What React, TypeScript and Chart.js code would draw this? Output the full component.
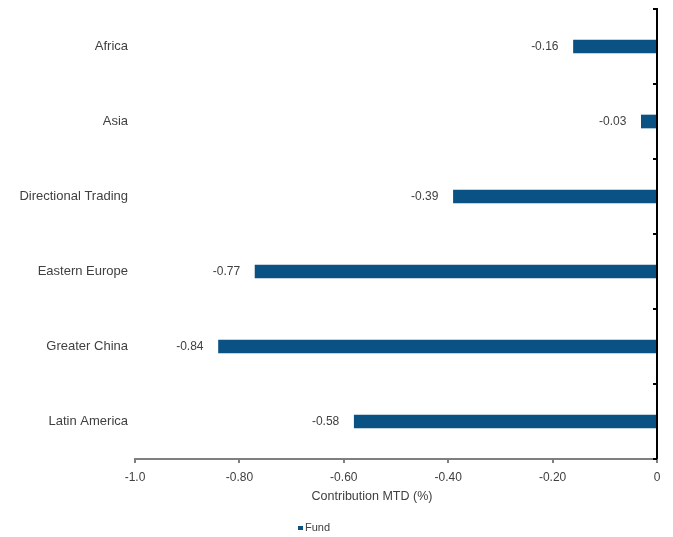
import React, { useEffect, useRef } from "react";
import { Chart, registerables } from "chart.js";

Chart.register(...registerables);

const categories = ["Africa", "Asia", "Directional Trading", "Eastern Europe", "Greater China", "Latin America"];
const fundValues = [-0.16, -0.03, -0.39, -0.77, -0.84, -0.58];
const xTickLabels = ["-1.0", "-0.80", "-0.60", "-0.40", "-0.20", "0"];
const seriesLabel = "Fund";
const axisTitle = "Contribution MTD (%)";

const BAR_COLOR = "#0a5283";
const TEXT_COLOR = "#404040";
const FONT = '"Liberation Sans", Arial, sans-serif';

export default function App() {
  const ref = useRef<HTMLCanvasElement | null>(null);

  useEffect(() => {
    if (!ref.current) return;
    const overlay = {
      id: "overlay",
      afterDatasetsDraw(chart: any) {
        const ctx = chart.ctx;
        const x = chart.scales.x;
        const y = chart.scales.y;
        const area = chart.chartArea;
        ctx.save();
        // value labels
        ctx.font = `12px ${FONT}`;
        ctx.fillStyle = TEXT_COLOR;
        ctx.textAlign = "right";
        ctx.textBaseline = "middle";
        const meta = chart.getDatasetMeta(0);
        meta.data.forEach((bar: any, i: number) => {
          ctx.fillText(fundValues[i].toFixed(2), bar.x - 15, bar.y);
        });
        // right (zero) axis line with inward ticks
        const zx = x.getPixelForValue(0);
        ctx.strokeStyle = "#000000";
        ctx.lineWidth = 2;
        ctx.beginPath();
        ctx.moveTo(zx, area.top - 1);
        ctx.lineTo(zx, area.bottom);
        ctx.stroke();
        for (let i = 0; i <= categories.length; i++) {
          const py = Math.round(y.getPixelForValue(i - 0.5));
          ctx.beginPath();
          ctx.moveTo(zx - 4, py);
          ctx.lineTo(zx, py);
          ctx.stroke();
        }
        // axis title
        ctx.font = `12.5px ${FONT}`;
        ctx.textAlign = "center";
        ctx.fillStyle = TEXT_COLOR;
        ctx.fillText(axisTitle, 372, 497);
        // legend
        ctx.fillStyle = BAR_COLOR;
        ctx.fillRect(298, 526, 5, 4);
        ctx.font = `11px ${FONT}`;
        ctx.fillStyle = TEXT_COLOR;
        ctx.textAlign = "left";
        ctx.fillText(seriesLabel, 305, 528);
        ctx.restore();
      },
    };

    const chart = new Chart(ref.current, {
      type: "bar",
      data: {
        labels: categories,
        datasets: [
          {
            label: seriesLabel,
            data: fundValues,
            backgroundColor: BAR_COLOR,
            borderWidth: 0,
            barThickness: 13,
          },
        ],
      },
      options: {
        indexAxis: "y",
        animation: false,
        responsive: true,
        maintainAspectRatio: false,
        layout: { padding: { top: 9, right: 16, left: 0, bottom: 0 } },
        plugins: {
          legend: { display: false },
          tooltip: { enabled: false },
        },
        scales: {
          x: {
            min: -1,
            max: 0,
            afterFit: (s: any) => {
              s.height = 78;
            },
            ticks: {
              stepSize: 0.2,
              padding: 7,
              color: TEXT_COLOR,
              font: { family: FONT, size: 12 },
              maxRotation: 0,
              callback: (_v: any, i: number) => xTickLabels[i],
            },
            grid: {
              display: true,
              drawOnChartArea: false,
              drawTicks: true,
              tickLength: 4,
              color: "#7f7f7f",
              lineWidth: 2,
            },
            border: { display: true, color: "#7f7f7f", width: 2 },
          },
          y: {
            position: "left",
            afterFit: (s: any) => {
              s.width = 135;
              s.paddingTop = 0;
              s.paddingBottom = 0;
            },
            ticks: {
              padding: 7,
              color: TEXT_COLOR,
              font: { family: FONT, size: 13 },
            },
            grid: { display: false, drawTicks: false },
            border: { display: false },
          },
        },
      },
      plugins: [overlay],
    } as any);
    return () => chart.destroy();
  }, []);

  return (
    <div style={{ position: "absolute", left: 0, top: 0, width: 673, height: 537, background: "#ffffff" }}>
      <canvas ref={ref} />
    </div>
  );
}
